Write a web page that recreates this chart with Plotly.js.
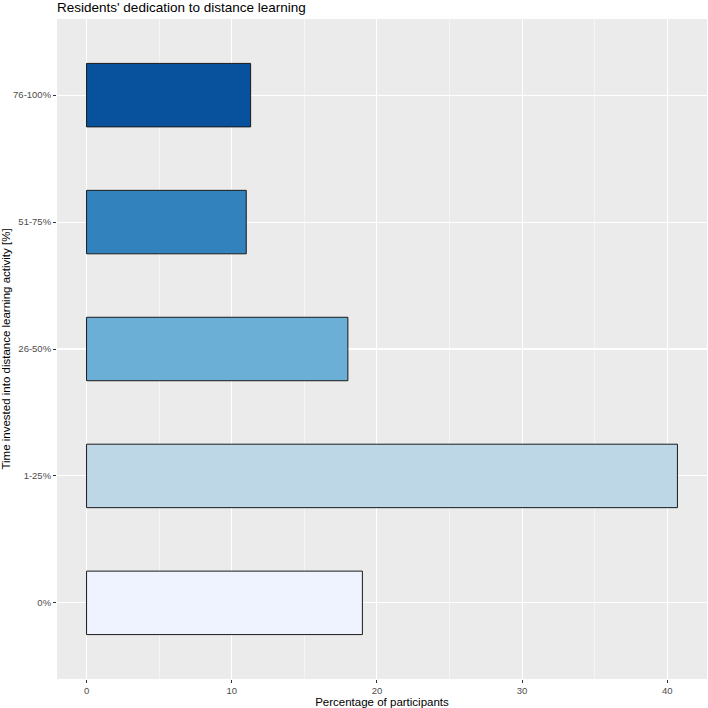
<!DOCTYPE html>
<html>
<head>
<meta charset="utf-8">
<script src="https://cdn.plot.ly/plotly-3.0.1.min.js"></script>
<style>html,body{margin:0;padding:0;background:#fff;}#chart{width:708px;height:708px;}</style>
</head>
<body>
<div id="chart"></div>
<script>
const categories = ["0%", "1-25%", "26-50%", "51-75%", "76-100%"];
const percentages = [19.0, 40.7, 18.0, 11.0, 11.3];
const barColors = ["#EFF3FF", "#BDD7E7", "#6BAED6", "#3182BD", "#08519C"];
const xTicks = [0, 10, 20, 30, 40];

const maxVal = Math.max(...percentages);
const trace = {
  type: "bar",
  orientation: "h",
  x: percentages,
  y: categories,
  width: 0.5,
  marker: { color: barColors, line: { color: "#1a1a1a", width: 1 } },
  hoverinfo: "x+y"
};

const layout = {
  width: 708, height: 708,
  margin: { l: 57, r: 1, t: 19, b: 29, pad: 0 },
  paper_bgcolor: "#ffffff",
  plot_bgcolor: "#EBEBEB",
  showlegend: false,
  font: { family: "Liberation Sans, Arial, sans-serif", color: "#000" },
  title: {
    text: "Residents' dedication to distance learning",
    font: { size: 13.5, color: "#000" },
    x: 0, xanchor: "left", xref: "paper",
    y: 1 - 7.5 / 708, yanchor: "middle", yref: "container"
  },
  xaxis: {
    range: [-0.05 * maxVal, 1.05 * maxVal],
    tickvals: xTicks,
    ticktext: xTicks.map(String),
    tickfont: { size: 9.5, color: "#4D4D4D" },
    ticks: "outside", ticklen: 3, tickcolor: "#333333", tickwidth: 1,
    showgrid: true, gridcolor: "#FFFFFF", gridwidth: 1.1,
    minor: { dtick: 5, tick0: 0, showgrid: true, gridcolor: "#FFFFFF", gridwidth: 0.5 },
    zeroline: false, showline: false,
    title: { text: "Percentage of participants", font: { size: 11.5, color: "#000" }, standoff: 1 },
    fixedrange: true
  },
  yaxis: {
    type: "category",
    categoryorder: "array",
    categoryarray: categories,
    range: [-0.6, 4.6],
    tickfont: { size: 9.5, color: "#4D4D4D" },
    ticks: "outside", ticklen: 3, tickcolor: "#333333", tickwidth: 1,
    showgrid: true, gridcolor: "#FFFFFF", gridwidth: 1.1,
    zeroline: false, showline: false,
    title: { text: "Time invested into distance learning activity [%]", font: { size: 11.5, color: "#000" }, standoff: 4 },
    fixedrange: true
  },
  bargap: 0.5
};

Plotly.newPlot("chart", [trace], layout, { displayModeBar: false, staticPlot: true });
</script>
</body>
</html>
